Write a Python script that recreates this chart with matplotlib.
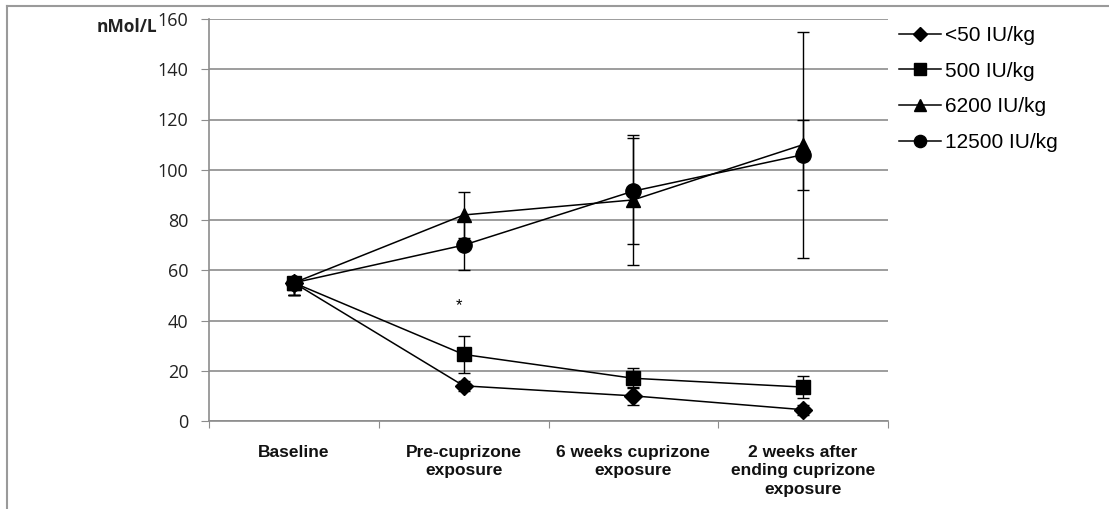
import matplotlib
matplotlib.use("Agg")
import matplotlib.pyplot as plt
from matplotlib.lines import Line2D
import numpy as np

categories = ["Baseline", "Pre-cuprizone\nexposure", "6 weeks cuprizone\nexposure",
              "2 weeks after\nending cuprizone\nexposure"]
series_names = ["<50 IU/kg", "500 IU/kg", "6200 IU/kg", "12500 IU/kg"]
lt50 = [55, 14, 10, 4.5]
lt50_lo = [5, 2, 3.5, 2]
lt50_hi = [0, 2, 3.5, 2]
iu500 = [55, 26.5, 17, 13.5]
iu500_lo = [5, 7.5, 4, 4.3]
iu500_hi = [0, 7.5, 4, 4.3]
iu6200 = [55, 82, 88, 110]
iu6200_lo = [5, 9, 26, 45]
iu6200_hi = [0, 9, 26, 45]
iu12500 = [55, 70, 91.5, 106]
iu12500_lo = [5, 10, 21, 14]
iu12500_hi = [0, 10, 21, 14]
yticks = [0, 20, 40, 60, 80, 100, 120, 140, 160]

fig = plt.figure(figsize=(11.09, 5.09), dpi=100)
ax = fig.add_axes([209/1109, 1-421/509, (888-209)/1109, (421-19)/509])

x = np.arange(len(categories))
data = [(lt50, lt50_lo, lt50_hi, "D", 9), (iu500, iu500_lo, iu500_hi, "s", 10.5),
        (iu6200, iu6200_lo, iu6200_hi, "^", 10.5), (iu12500, iu12500_lo, iu12500_hi, "o", 11)]
handles = []
for (vals, lo, hi, mk, ms), name in zip(data, series_names):
    ax.errorbar(x, vals, yerr=[lo, hi], color="black", lw=1.1, marker=mk, ms=ms,
                capsize=4, elinewidth=1.0, capthick=1.0, zorder=3)
    handles.append(Line2D([], [], color="black", lw=1.1, marker=mk,
                          ms=ms*0.8, label=name))

ax.text(1 - 0.03, 46, "*", ha="center", va="center", fontsize=12,
        family="Liberation Sans")

ax.set_xlim(-0.5, 3.5)
ax.set_ylim(0, 160)
ax.set_yticks(yticks)
ax.set_yticklabels([str(t) for t in yticks], fontsize=13, family="Open Sans",
                   color="#222222")
ax.yaxis.grid(True, color="#8c8c8c", lw=1.2)
ax.set_axisbelow(True)
ax.set_xticks([-0.5, 0.5, 1.5, 2.5, 3.5])
ax.set_xticklabels([])
ax.set_xticks(x, minor=True)
ax.set_xticklabels(categories, minor=True, fontsize=12.5, fontweight="bold",
                   family="Liberation Sans", linespacing=1.3, color="#111111")
ax.tick_params(axis="x", which="minor", length=0, pad=17)
ax.tick_params(axis="x", which="major", length=5, color="#8c8c8c", direction="out")
ax.tick_params(axis="y", length=6, color="#8c8c8c", direction="out", pad=9)
for s in ["top", "right"]:
    ax.spines[s].set_visible(False)
for s in ["left", "bottom"]:
    ax.spines[s].set_color("#8c8c8c")
    ax.spines[s].set_linewidth(1.2)

fig.text(157/1109, 1-27/509, "nMol/L", ha="right", va="center", fontsize=12.5,
         fontweight="bold", family="Open Sans", color="#222222")

fig.legend(handles=handles, loc="upper left", bbox_to_anchor=(899/1109, 1-26/509),
           frameon=False, prop={"family": "Liberation Sans", "size": 15},
           handlelength=2.0, handletextpad=0.2, labelspacing=0.8,
           borderpad=0, borderaxespad=0)

# outer frame
fig.add_artist(Line2D([7/1109, 7/1109], [0, 1-6/509], transform=fig.transFigure,
                      color="#9a9a9a", lw=1.5))
fig.add_artist(Line2D([7/1109, 1], [1-6/509, 1-6/509], transform=fig.transFigure,
                      color="#9a9a9a", lw=1.5))

fig.savefig("out.png", dpi=100)
